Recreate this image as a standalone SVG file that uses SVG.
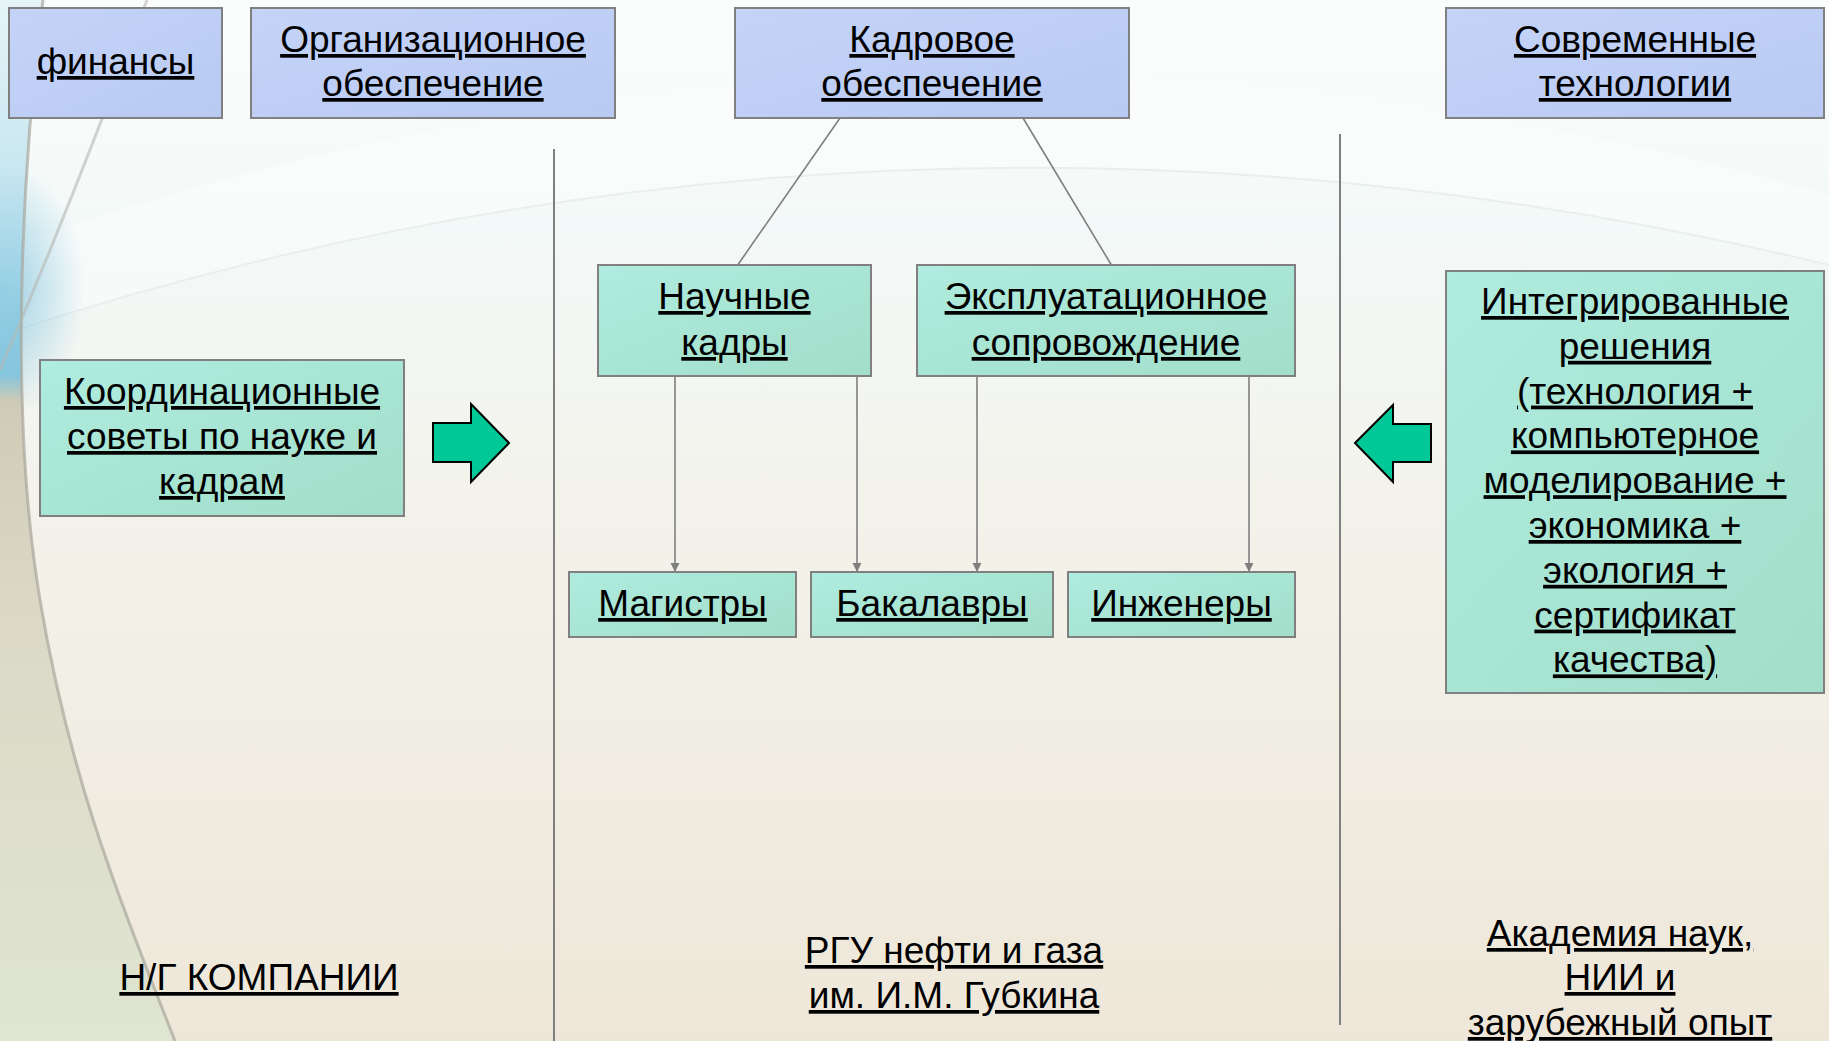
<svg xmlns="http://www.w3.org/2000/svg" width="1829" height="1041" viewBox="0 0 1829 1041">
  <defs>
    <linearGradient id="bg" x1="0" y1="0" x2="0" y2="1">
      <stop offset="0" stop-color="#fbfdfd"/>
      <stop offset="0.22" stop-color="#f3f9f8"/>
      <stop offset="0.5" stop-color="#f3f2ea"/>
      <stop offset="1" stop-color="#eee7d9"/>
    </linearGradient>
    <linearGradient id="edge" x1="0" y1="0" x2="0" y2="1">
      <stop offset="0" stop-color="#e4f3f6"/>
      <stop offset="0.16" stop-color="#c4e5f0"/>
      <stop offset="0.3" stop-color="#8ccbe2"/>
      <stop offset="0.36" stop-color="#7cc1dc"/>
      <stop offset="0.385" stop-color="#cac7b0"/>
      <stop offset="0.6" stop-color="#d9d6c3"/>
      <stop offset="1" stop-color="#dde5d0"/>
    </linearGradient>
    <radialGradient id="blueGlow" cx="0.5" cy="0.5" r="0.5">
      <stop offset="0" stop-color="#7cc1dc" stop-opacity="0.75"/>
      <stop offset="1" stop-color="#7cc1dc" stop-opacity="0"/>
    </radialGradient>
    <linearGradient id="lav" x1="0" y1="0" x2="1" y2="1">
      <stop offset="0" stop-color="#c5d3f7"/>
      <stop offset="1" stop-color="#b8caf3"/>
    </linearGradient>
    <linearGradient id="mint" x1="0" y1="0" x2="1" y2="1">
      <stop offset="0" stop-color="#b0ecdf"/>
      <stop offset="1" stop-color="#a2dec9"/>
    </linearGradient>
    <marker id="tip" viewBox="0 0 10 10" refX="10" refY="5" markerWidth="9" markerHeight="10" markerUnits="userSpaceOnUse" orient="auto">
      <path d="M0,0 L10,5 L0,10 Z" fill="#7f7f7f"/>
    </marker>
    <style>
      .box-lav { fill: url(#lav); stroke: #808080; stroke-width: 2; }
      .box-mint { fill: url(#mint); stroke: #808080; stroke-width: 2; }
      .lbl { font-family: "Liberation Sans", Arial, sans-serif; font-size: 37px; fill: #000; text-anchor: middle; text-decoration: underline; }
      .link { stroke: #7f7f7f; stroke-width: 1.6; fill: none; }
      .divider { stroke: #7f7f7f; stroke-width: 2; }
      .big-arrow { fill: #00c896; stroke: #000; stroke-width: 2; stroke-linejoin: miter; }
    </style>
  </defs>

  <!-- background -->
  <g id="background">
    <rect width="1829" height="1041" fill="url(#bg)"/>
    <path d="M0,250 Q900,-70 1829,195 L1829,265 Q900,40 0,335 Z" fill="#ffffff" opacity="0.35"/>
    <path d="M0,335 Q900,40 1829,265" fill="none" stroke="#e9efed" stroke-width="2"/>
    <ellipse cx="0" cy="290" rx="85" ry="130" fill="url(#blueGlow)"/>
    <path d="M0,0 L43,0 C20,180 10,420 40,600 S120,900 175,1041 L0,1041 Z" fill="url(#edge)" opacity="0.9"/>
    <path d="M43,0 C20,180 10,420 40,600 S120,900 175,1041" fill="none" stroke="#a9a79c" stroke-width="3" opacity="0.7"/>
    <path d="M147,0 C110,100 60,230 0,370" fill="none" stroke="#b5b8b2" stroke-width="3" opacity="0.6"/>
  </g>

  <!-- column dividers -->
  <g id="dividers">
    <line class="divider" x1="554" y1="149" x2="554" y2="1041"/>
    <line class="divider" x1="1340" y1="134" x2="1340" y2="1025"/>
  </g>

  <!-- connectors -->
  <g id="connectors">
    <line class="link" x1="840" y1="118" x2="737" y2="266"/>
    <line class="link" x1="1023" y1="118" x2="1112" y2="266"/>
    <line class="link" x1="675" y1="376" x2="675" y2="572" marker-end="url(#tip)"/>
    <line class="link" x1="857" y1="376" x2="857" y2="572" marker-end="url(#tip)"/>
    <line class="link" x1="977" y1="376" x2="977" y2="572" marker-end="url(#tip)"/>
    <line class="link" x1="1249" y1="376" x2="1249" y2="572" marker-end="url(#tip)"/>
    <polygon class="big-arrow" points="433,423 471,423 471,404 509,443 471,482 471,462 433,462"/>
    <polygon class="big-arrow" points="1355,443 1393,405 1393,424 1431,424 1431,462 1393,462 1393,482"/>
  </g>

  <!-- top row -->
  <g id="finance">
    <rect class="box-lav" x="9" y="8" width="213" height="110"/>
    <text class="lbl" x="115.5" y="74">финансы</text>
  </g>
  <g id="org-support">
    <rect class="box-lav" x="251" y="8" width="364" height="110"/>
    <text class="lbl" x="433" y="52">Организационное</text>
    <text class="lbl" x="433" y="96">обеспечение</text>
  </g>
  <g id="staff-support">
    <rect class="box-lav" x="735" y="8" width="394" height="110"/>
    <text class="lbl" x="932" y="52">Кадровое</text>
    <text class="lbl" x="932" y="96">обеспечение</text>
  </g>
  <g id="modern-tech">
    <rect class="box-lav" x="1446" y="8" width="378" height="110"/>
    <text class="lbl" x="1635" y="52">Современные</text>
    <text class="lbl" x="1635" y="96">технологии</text>
  </g>

  <!-- middle row -->
  <g id="research-staff">
    <rect class="box-mint" x="598" y="265" width="273" height="111"/>
    <text class="lbl" x="734.5" y="309">Научные</text>
    <text class="lbl" x="734.5" y="355">кадры</text>
  </g>
  <g id="operations">
    <rect class="box-mint" x="917" y="265" width="378" height="111"/>
    <text class="lbl" x="1106" y="309">Эксплуатационное</text>
    <text class="lbl" x="1106" y="355">сопровождение</text>
  </g>
  <g id="councils">
    <rect class="box-mint" x="40" y="360" width="364" height="156"/>
    <text class="lbl" x="222" y="404">Координационные</text>
    <text class="lbl" x="222" y="449">советы по науке и</text>
    <text class="lbl" x="222" y="494">кадрам</text>
  </g>
  <g id="integrated">
    <rect class="box-mint" x="1446" y="271" width="378" height="422"/>
    <text class="lbl" x="1635" y="314">Интегрированные</text>
    <text class="lbl" x="1635" y="358.8">решения</text>
    <text class="lbl" x="1635" y="403.6">(технология +</text>
    <text class="lbl" x="1635" y="448.4">компьютерное</text>
    <text class="lbl" x="1635" y="493.2">моделирование +</text>
    <text class="lbl" x="1635" y="538">экономика +</text>
    <text class="lbl" x="1635" y="582.8">экология +</text>
    <text class="lbl" x="1635" y="627.6">сертификат</text>
    <text class="lbl" x="1635" y="672.4">качества)</text>
  </g>

  <!-- degree boxes -->
  <g id="masters">
    <rect class="box-mint" x="569" y="572" width="227" height="65"/>
    <text class="lbl" x="682.5" y="616">Магистры</text>
  </g>
  <g id="bachelors">
    <rect class="box-mint" x="811" y="572" width="242" height="65"/>
    <text class="lbl" x="932" y="616">Бакалавры</text>
  </g>
  <g id="engineers">
    <rect class="box-mint" x="1068" y="572" width="227" height="65"/>
    <text class="lbl" x="1181.5" y="616">Инженеры</text>
  </g>

  <!-- column captions -->
  <g id="caption-companies">
    <text class="lbl" x="259" y="990">Н/Г КОМПАНИИ</text>
  </g>
  <g id="caption-university">
    <text class="lbl" x="954" y="963">РГУ нефти и газа</text>
    <text class="lbl" x="954" y="1008">им. И.М. Губкина</text>
  </g>
  <g id="caption-academy">
    <text class="lbl" x="1620" y="946">Академия наук,</text>
    <text class="lbl" x="1620" y="990">НИИ и</text>
    <text class="lbl" x="1620" y="1035">зарубежный опыт</text>
  </g>
</svg>
